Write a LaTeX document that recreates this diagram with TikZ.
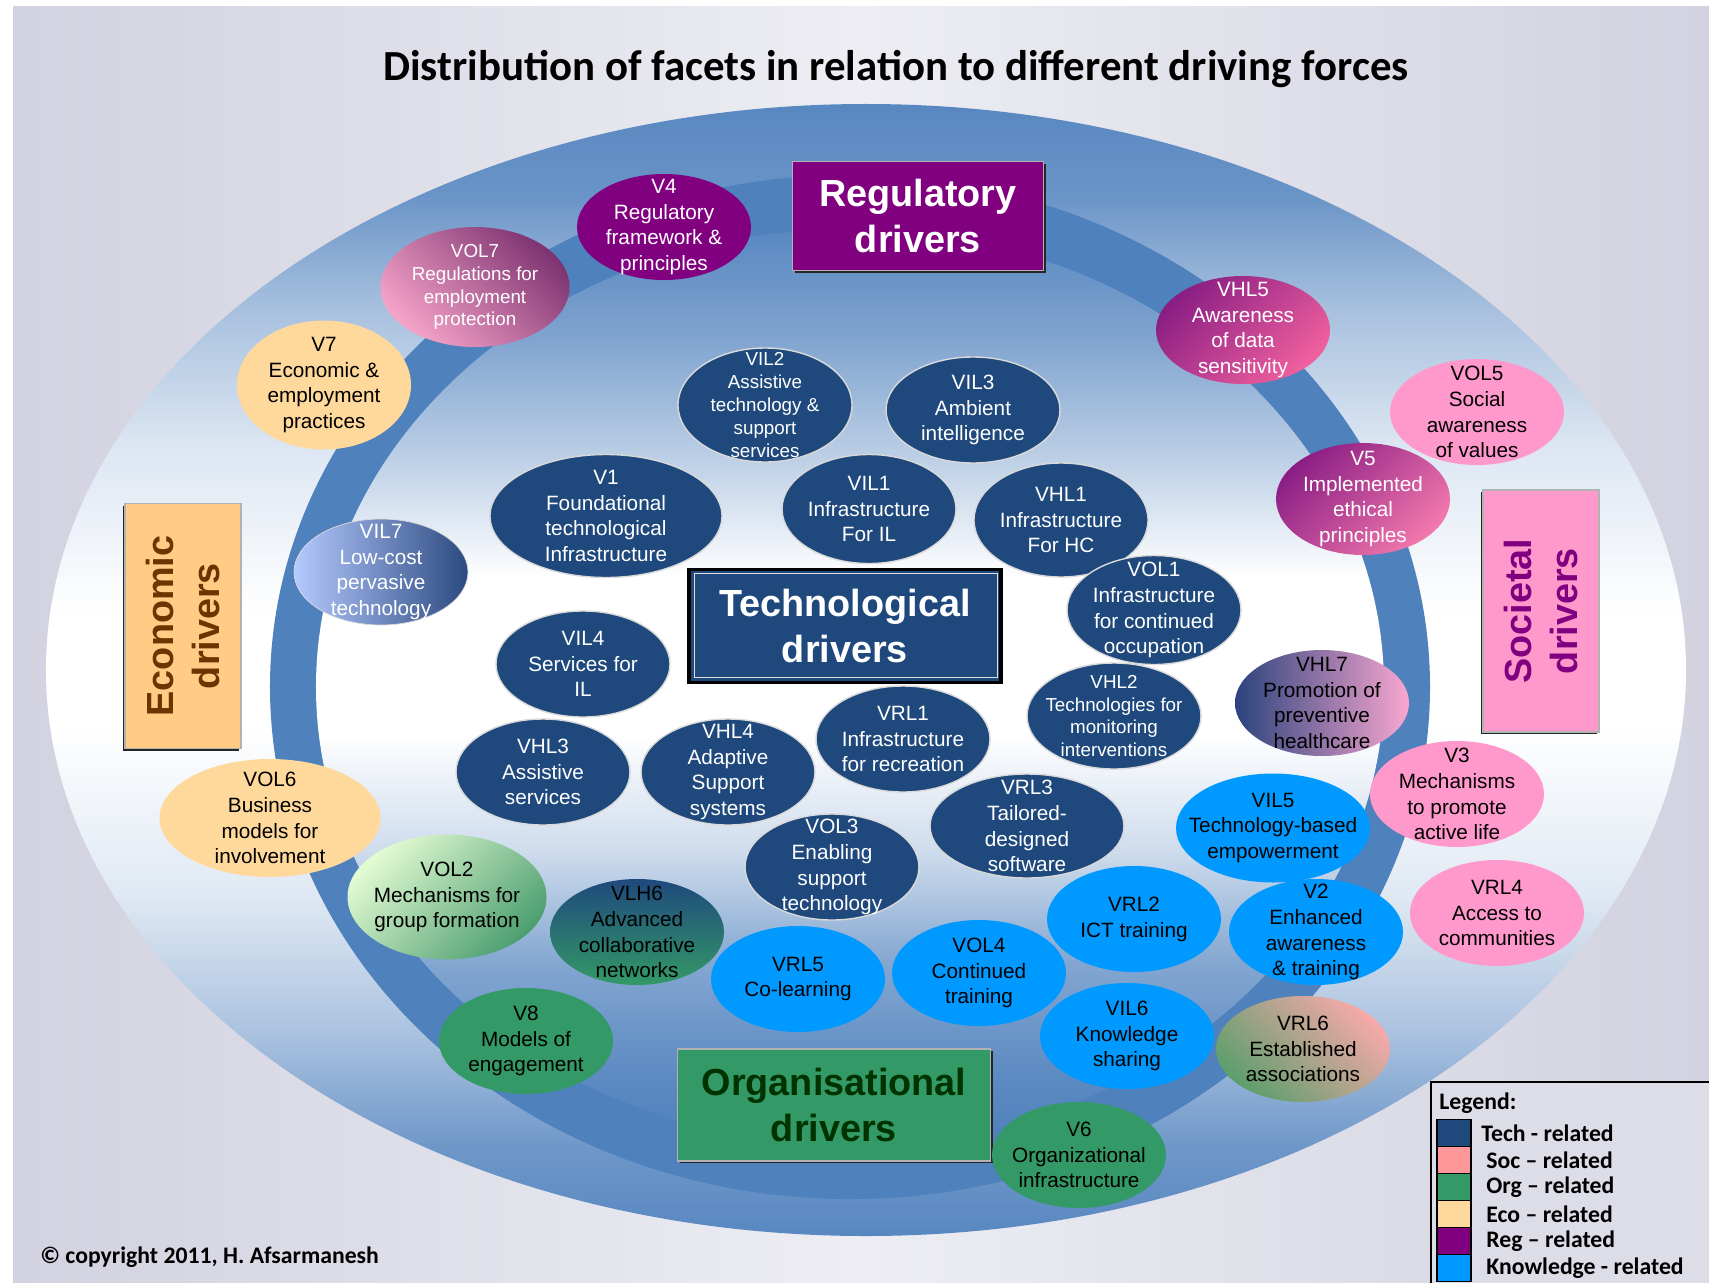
\documentclass[tikz,border=0pt]{standalone}
\usepackage{fontspec}
\setmainfont{Liberation Sans}
\newfontfamily\calibri{Carlito}
\usepackage{tikz}
\usetikzlibrary{shapes.geometric,shadows}

\definecolor{techblue}{HTML}{1F497D}
\definecolor{knowblue}{HTML}{0099FF}
\definecolor{socpink}{HTML}{FF99CC}
\definecolor{socsalmon}{HTML}{FF9999}
\definecolor{orggreen}{HTML}{339966}
\definecolor{ecoorange}{HTML}{FFD99C}
\definecolor{ecobox}{HTML}{FFCC85}
\definecolor{ecobrown}{HTML}{6B3400}
\definecolor{orgtext}{HTML}{003300}
\definecolor{regpurple}{HTML}{800080}
\definecolor{ringblue}{HTML}{4F81BD}
\definecolor{bgside}{HTML}{D2D2E0}
\definecolor{bgmid}{HTML}{EDEDF3}
% mixed facets
\definecolor{rosepink}{HTML}{F5A3C8}
\definecolor{roseplum}{HTML}{7E3472}
\definecolor{lavender}{HTML}{B5CAFF}
\definecolor{slateblue}{HTML}{2C4A80}
\definecolor{dusknavy}{HTML}{2B437D}
\definecolor{blushpink}{HTML}{F9A7D0}
\definecolor{mintlight}{HTML}{E3FBD3}
\definecolor{mintdark}{HTML}{4D9F70}
\definecolor{salmonlight}{HTML}{F6A9A9}
\definecolor{sagegreen}{HTML}{5E9E6C}
\definecolor{plumdark}{HTML}{8A1E84}
\definecolor{hotpink}{HTML}{F0609E}

% vertical gradients of the two big ellipses (0bp = bottom)
\pgfdeclareverticalshading{outershade}{100bp}{color(0bp)=(ringblue!95!white); color(25bp)=(ringblue!95!white); color(29bp)=(ringblue!82!white); color(34bp)=(ringblue!48!white); color(40bp)=(ringblue!18!white); color(47.5bp)=(white); color(52.5bp)=(white); color(60bp)=(ringblue!20!white); color(66bp)=(ringblue!50!white); color(71bp)=(ringblue!85!white); color(75bp)=(ringblue!95!white); color(100bp)=(ringblue!95!white)}
\pgfdeclareverticalshading{innershade}{100bp}{color(0bp)=(ringblue); color(25bp)=(ringblue); color(29bp)=(ringblue!92!white); color(35bp)=(ringblue!70!white); color(41bp)=(ringblue!28!white); color(47.5bp)=(white); color(56bp)=(white); color(62.5bp)=(ringblue!38!white); color(69bp)=(ringblue!72!white); color(75bp)=(ringblue!95!white); color(100bp)=(ringblue!95!white)}

\begin{document}
\begin{tikzpicture}[x=0.2mm, y=-0.2mm,
  facet/.style={ellipse, inner sep=-40mm, minimum width=34.8mm, minimum height=21.2mm, align=center, font=\fontsize{11.8}{14.7}\selectfont},
  small/.style={font=\fontsize{10.7}{13}\selectfont},
  tech/.style={facet, fill=techblue, draw=gray!30, line width=0.8pt, text=white},
  know/.style={facet, fill=knowblue},
  soc/.style={facet, fill=socpink},
  eco/.style={facet, fill=ecoorange},
  org/.style={facet, fill=orggreen},
  reg/.style={facet, fill=regpurple, text=white},
  driver/.style={rectangle, align=center, font=\fontsize{21.5}{26}\selectfont\bfseries, draw=gray!60, line width=0.8pt},
  shadowed/.style={drop shadow={shadow xshift=1.3pt, shadow yshift=-1.3pt, opacity=1, fill=black!85}},
  swatch/.style={draw=black, line width=0.9pt, minimum width=6.8mm, minimum height=5.4mm, inner sep=0pt},
  legendtext/.style={font=\calibri\bfseries\fontsize{13.5}{16}\selectfont, anchor=west, inner sep=0pt}
]
\useasboundingbox (0,0) rectangle (1709,1283);
\clip (0,0) rectangle (1709,1283);

% background and the three ellipses
\fill[white] (0,0) rectangle (1709,1283);
\shade[left color=bgside, right color=bgside, middle color=bgmid] (13,6) rectangle (1709,1283);
\shade[shading=outershade] (866,670) ellipse [x radius=164mm, y radius=113.2mm];
\fill[ringblue] (850,687) ellipse [x radius=116mm, y radius=102.4mm];
\shade[shading=innershade] (850,687) ellipse [x radius=106.8mm, y radius=91.6mm];

\node[font=\calibri\bfseries\fontsize{24.4}{28}\selectfont] (title) at (896,69) {Distribution of facets in relation to different driving forces};

% driving forces
\node[driver, shadowed, fill=regpurple, text=white, minimum width=50.2mm, minimum height=21.8mm] (regdrv) at (918,216) {Regulatory\\drivers};
\node[driver, fill=techblue, text=white, draw=black, line width=1.8pt, minimum width=62.4mm, minimum height=22.6mm] (techdrv) at (845,626) {Technological\\drivers};
\node[draw=white!75!gray, line width=0.5pt, minimum width=60.6mm, minimum height=20.8mm] (techframe) at (846,625) {};
\node[driver, shadowed, fill=orggreen, text=orgtext, minimum width=62.6mm, minimum height=22.4mm] (orgdrv) at (834,1105) {Organisational\\drivers};
\node[driver, fill=socpink, text=regpurple, rotate=90, minimum width=48.4mm, minimum height=23.2mm, drop shadow={shadow xshift=-1.3pt, shadow yshift=-1.3pt, opacity=1, fill=black!85}] (socdrv) at (1541,611) {Societal\\drivers};
\node[driver, fill=ecobox, text=ecobrown, rotate=90, minimum width=49mm, minimum height=23.2mm, drop shadow={shadow xshift=-1.3pt, shadow yshift=-1.3pt, opacity=1, fill=black!85}] (ecodrv) at (183,626) {Economic\\drivers};

% facets
\node[reg] (v4) at (664,227) {V4\\Regulatory\\framework \&\\principles};
\node[facet, small, text=white, top color=rosepink, bottom color=roseplum, shading angle=135, minimum width=37.8mm, minimum height=24mm] (vol7) at (475,287) {VOL7\\Regulations for\\employment\\protection};
\node[eco, minimum height=25.8mm] (v7) at (324,385) {V7\\Economic \&\\employment\\practices};
\node[facet, text=white, draw=gray!30, left color=lavender, right color=slateblue] (vil7) at (381,572) {VIL7\\Low-cost\\pervasive\\technology};
\node[tech, small, minimum height=22.8mm] (vil2) at (765,405) {VIL2\\Assistive\\technology \&\\support\\services};
\node[tech] (vil3) at (973,410) {VIL3\\Ambient\\intelligence};
\node[tech, minimum width=46.4mm, minimum height=24.6mm] (v1) at (606,516) {V1\\Foundational\\technological\\Infrastructure};
\node[tech, minimum height=21.8mm] (vil1) at (869,509) {VIL1\\Infrastructure\\For IL};
\node[tech, minimum height=22.8mm] (vhl1) at (1061,520) {VHL1\\Infrastructure\\For HC};
\node[tech, minimum height=21.8mm] (vol1) at (1154,610) {VOL1\\Infrastructure\\for continued\\occupation};
\node[tech] (vil4) at (583,664) {VIL4\\Services for\\IL};
\node[tech] (vhl3) at (543,772) {VHL3\\Assistive\\services};
\node[tech] (vhl4) at (728,772) {VHL4\\Adaptive\\Support\\systems};
\node[tech] (vrl1) at (903,739) {VRL1\\Infrastructure\\for recreation};
\node[tech, small] (vhl2) at (1114,716) {VHL2\\Technologies for\\monitoring\\interventions};
\node[facet, left color=dusknavy, right color=blushpink] (vhl7) at (1322,703) {VHL7\\Promotion of\\preventive\\healthcare};
\node[tech, minimum width=38.8mm, minimum height=20.8mm] (vrl3) at (1027,826) {VRL3\\Tailored-\\designed\\software};
\node[tech] (vol3) at (832,867) {VOL3\\Enabling\\support\\technology};
\node[know, minimum width=38.8mm, minimum height=21.8mm] (vil5) at (1273,828) {VIL5\\Technology-based\\empowerment};
\node[soc] (v3) at (1457,794) {V3\\Mechanisms\\to promote\\active life};
\node[eco, minimum width=44.2mm, minimum height=23.6mm] (vol6) at (270,818) {VOL6\\Business\\models for\\involvement};
\node[facet, top color=mintlight, bottom color=mintdark, shading angle=45, minimum width=39.8mm, minimum height=25mm] (vol2) at (447,897) {VOL2\\Mechanisms for\\group formation};
\node[facet, top color=techblue, bottom color=orggreen] (vlh6) at (637,932) {VLH6\\Advanced\\collaborative\\networks};
\node[know] (vrl5) at (798,979) {VRL5\\Co-learning};
\node[know] (vol4) at (979,973) {VOL4\\Continued\\training};
\node[know] (vrl2) at (1134,919) {VRL2\\ICT training};
\node[know] (v2) at (1316,932) {V2\\Enhanced\\awareness\\\& training};
\node[soc] (vrl4) at (1497,913) {VRL4\\Access to\\communities};
\node[know] (vil6) at (1127,1036) {VIL6\\Knowledge\\sharing};
\node[facet, top color=salmonlight, bottom color=sagegreen, shading angle=-45] (vrl6) at (1303,1049) {VRL6\\Established\\associations};
\node[org] (v8) at (526,1041) {V8\\Models of\\engagement};
\node[org] (v6) at (1079,1155) {V6\\Organizational\\infrastructure};
\node[facet, text=white, top color=plumdark, bottom color=hotpink, shading angle=45, minimum height=21.6mm] (vhl5) at (1243,330) {VHL5\\Awareness\\of data\\sensitivity};
\node[soc] (vol5) at (1477,412) {VOL5\\Social\\awareness\\of values};
\node[facet, text=white, top color=plumdark, bottom color=hotpink!85!white, shading angle=45, minimum height=22.4mm] (v5) at (1363,499) {V5\\Implemented\\ethical\\principles};

% legend
\node[draw=black, line width=0.9pt, fill=bgside!60!bgmid, anchor=north west, minimum width=60mm, minimum height=45mm] (legend) at (1430,1081) {};
\node[legendtext] (legendhead) at (1439,1103) {Legend:};
\node[swatch, fill=techblue] (sw1) at (1454,1133) {};
\node[swatch, fill=socsalmon] (sw2) at (1454,1160) {};
\node[swatch, fill=orggreen] (sw3) at (1454,1187) {};
\node[swatch, fill=ecoorange] (sw4) at (1454,1214) {};
\node[swatch, fill=regpurple] (sw5) at (1454,1241) {};
\node[swatch, fill=knowblue] (sw6) at (1454,1268) {};
\node[legendtext] (lt1) at (1481,1133) {Tech - related};
\node[legendtext] (lt2) at (1486,1160) {Soc – related};
\node[legendtext] (lt3) at (1486,1187) {Org – related};
\node[legendtext] (lt4) at (1486,1214) {Eco – related};
\node[legendtext] (lt5) at (1486,1241) {Reg – related};
\node[legendtext] (lt6) at (1486,1268) {Knowledge - related};

\node[font=\calibri\bfseries\fontsize{13.5}{16}\selectfont, anchor=west, inner sep=0pt] (copyr) at (40,1257) {© copyright 2011, H. Afsarmanesh};
\end{tikzpicture}
\end{document}
